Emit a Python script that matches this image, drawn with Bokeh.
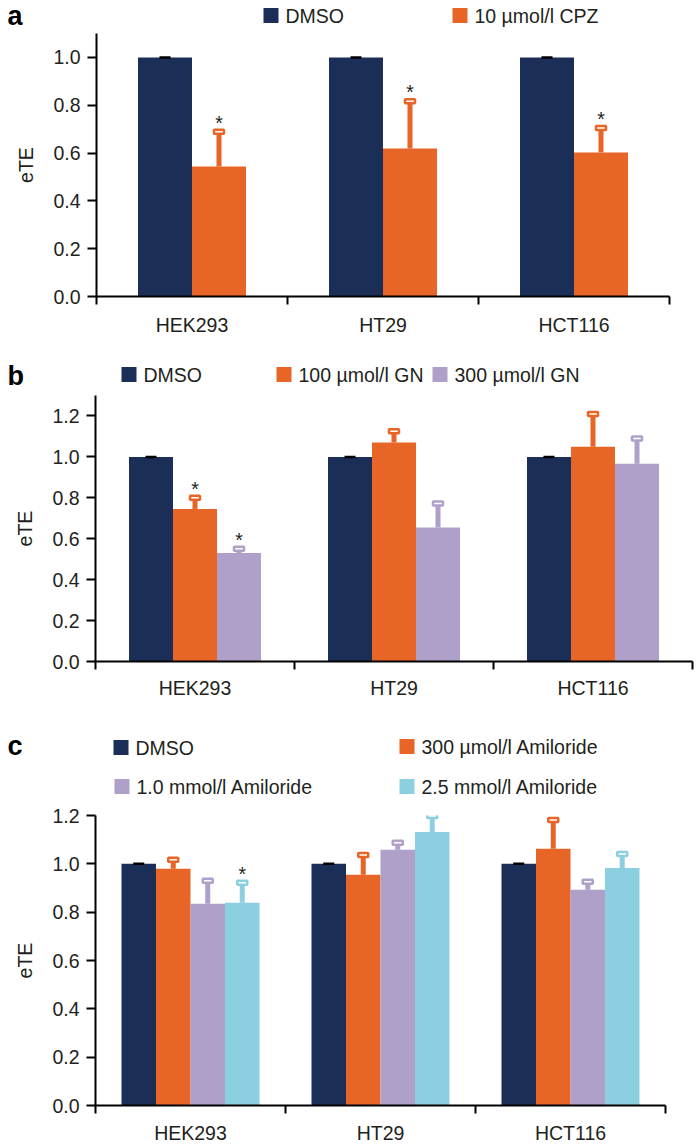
from bokeh.plotting import figure
from bokeh.models import Range1d, FixedTicker, PrintfTickFormatter
from bokeh.layouts import column
from bokeh.core.properties import value
from bokeh.embed import file_html
from bokeh.resources import INLINE

# ---------------- data ----------------
cells = ["HEK293", "HT29", "HCT116"]

# panel a
a_labels = ["DMSO", "10 \u00b5mol/l CPZ"]
a_dmso = [1.0, 1.0, 1.0]
a_dmso_sd = [0.0, 0.0, 0.0]
a_cpz = [0.544, 0.619, 0.602]
a_cpz_sd = [0.145, 0.198, 0.103]
a_cpz_sig = [True, True, True]
a_yticks = [0.0, 0.2, 0.4, 0.6, 0.8, 1.0]

# panel b
b_labels = ["DMSO", "100 \u00b5mol/l GN", "300 \u00b5mol/l GN"]
b_dmso = [1.0, 1.0, 1.0]
b_dmso_sd = [0.0, 0.0, 0.0]
b_gn100 = [0.745, 1.07, 1.05]
b_gn100_sd = [0.055, 0.055, 0.16]
b_gn100_sig = [True, False, False]
b_gn300 = [0.53, 0.655, 0.967]
b_gn300_sd = [0.021, 0.117, 0.123]
b_gn300_sig = [True, False, False]
b_yticks = [0.0, 0.2, 0.4, 0.6, 0.8, 1.0, 1.2]

# panel c
c_labels = ["DMSO", "300 \u00b5mol/l Amiloride", "1.0 mmol/l Amiloride", "2.5 mmol/l Amiloride"]
c_dmso = [1.0, 1.0, 1.0]
c_dmso_sd = [0.0, 0.0, 0.0]
c_a300 = [0.98, 0.955, 1.062]
c_a300_sd = [0.037, 0.082, 0.119]
c_a1 = [0.835, 1.058, 0.893]
c_a1_sd = [0.095, 0.029, 0.033]
c_a25 = [0.839, 1.132, 0.983]
c_a25_sd = [0.083, 0.066, 0.058]
c_a25_sig = [True, False, False]
c_yticks = [0.0, 0.2, 0.4, 0.6, 0.8, 1.0, 1.2]
no_sig = [False, False, False]

# ---------------- style ----------------
NAVY = "#1a2e57"
ORANGE = "#e76526"
PURPLE = "#afa0ca"
CYAN = "#8ccfe1"
TXT = "#231f20"
FONT = "Liberation Sans"
FS = "19.5px"
W = 700


def no_align(p):
    try:
        p.frame_align = False
    except Exception:
        pass


def make_plot(series, colors, ymax, yticks, bar_w, height, top, bottom,
              left, right, standoff):
    p = figure(width=W, height=height, x_range=Range1d(0, len(cells)),
               y_range=Range1d(0, ymax), output_backend="svg",
               toolbar_location=None, min_border_left=left,
               min_border_right=right, min_border_top=top,
               min_border_bottom=bottom)
    no_align(p)
    p.outline_line_color = None
    p.xgrid.grid_line_color = None
    p.ygrid.grid_line_color = None
    n = len(series)
    for j, (vals, sds, sig) in enumerate(series):
        col = colors[j]
        xs = [i + 0.5 + (j - (n - 1) / 2) * bar_w for i in range(len(cells))]
        tops = [v + s for v, s in zip(vals, sds)]
        p.vbar(x=xs, top=vals, width=bar_w, bottom=0, fill_color=col,
               line_color=None)
        if j == 0:
            p.rect(x=xs, y=tops, width=11, height=2.5, width_units="screen",
                   height_units="screen", fill_color="black", line_color=None)
        else:
            p.segment(x0=xs, y0=vals, x1=xs, y1=tops, line_color=col,
                      line_width=5)
            p.rect(x=xs, y=tops, width=10, height=4, width_units="screen",
                   height_units="screen", fill_color="white", line_color=col,
                   line_width=2.5)
        sx = [x for x, s in zip(xs, sig) if s]
        sy = [t for t, s in zip(tops, sig) if s]
        if sx:
            p.text(x=sx, y=sy, text=["*"] * len(sx), text_align="center",
                   text_baseline="alphabetic", y_offset=-9,
                   text_font=value(FONT), text_font_size=FS, text_color=TXT)

    ya = p.yaxis[0]
    ya.ticker = FixedTicker(ticks=yticks)
    ya.formatter = PrintfTickFormatter(format="%.1f")
    ya.major_tick_out = 9
    ya.major_tick_in = 0
    ya.major_tick_line_width = 2
    ya.axis_line_width = 2
    ya.major_label_standoff = 7
    ya.major_label_text_font = FONT
    ya.major_label_text_font_size = FS
    ya.major_label_text_color = TXT
    ya.axis_label = "eTE"
    ya.axis_label_text_font = FONT
    ya.axis_label_text_font_size = FS
    ya.axis_label_text_font_style = "normal"
    ya.axis_label_text_color = TXT
    ya.axis_label_standoff = 13

    xa = p.xaxis[0]
    centers = [i + 0.5 for i in range(len(cells))]
    xa.ticker = FixedTicker(ticks=centers,
                            minor_ticks=list(range(len(cells) + 1)))
    xa.major_label_overrides = {c: name for c, name in zip(centers, cells)}
    xa.major_tick_line_color = None
    xa.major_tick_out = 0
    xa.major_tick_in = 0
    xa.minor_tick_out = 8
    xa.minor_tick_in = 0
    xa.minor_tick_line_width = 2
    xa.minor_tick_line_color = "black"
    xa.axis_line_width = 2
    xa.major_label_standoff = standoff
    xa.major_label_text_font = FONT
    xa.major_label_text_font_size = FS
    xa.major_label_text_color = TXT
    return p


def make_legend(height, letter, letter_y, items):
    p = figure(width=W, height=height, x_range=Range1d(0, W),
               y_range=Range1d(height, 0), output_backend="svg",
               toolbar_location=None, x_axis_type=None, y_axis_type=None,
               min_border=0)
    no_align(p)
    p.outline_line_color = None
    p.xgrid.grid_line_color = None
    p.ygrid.grid_line_color = None
    p.text(x=[7], y=[letter_y], text=[letter], text_baseline="middle",
           text_font=value(FONT), text_font_size="27px",
           text_font_style="bold", text_color="black")
    xs = [it[0] + 7.5 for it in items]
    ys = [it[1] for it in items]
    p.rect(x=xs, y=ys, width=15, height=15, fill_color=[it[2] for it in items],
           line_color=None)
    p.text(x=[it[0] + 22 for it in items], y=ys, text=[it[3] for it in items],
           text_baseline="middle", text_font=value(FONT), text_font_size=FS,
           text_color=TXT)
    return p


leg_a = make_legend(31, "a", 15.5, [(263, 15, NAVY, a_labels[0]),
                                    (452, 15, ORANGE, a_labels[1])])
plot_a = make_plot([(a_dmso, a_dmso_sd, no_sig), (a_cpz, a_cpz_sd, a_cpz_sig)],
                   [NAVY, ORANGE], 1.1, a_yticks, 54 / 191,
                   319, 2, 54, 96, 31, 9)

leg_b = make_legend(43, "b", 25, [(121, 24, NAVY, b_labels[0]),
                                  (276, 24, ORANGE, b_labels[1]),
                                  (432, 24, PURPLE, b_labels[2])])
plot_b = make_plot([(b_dmso, b_dmso_sd, no_sig),
                    (b_gn100, b_gn100_sd, b_gn100_sig),
                    (b_gn300, b_gn300_sd, b_gn300_sig)],
                   [NAVY, ORANGE, PURPLE], 1.3, b_yticks, 44 / 199,
                   319, 2, 51, 95, 8, 7)

leg_c = make_legend(88, "c", 33, [(113, 35, NAVY, c_labels[0]),
                                  (399, 34, ORANGE, c_labels[1]),
                                  (114, 74, PURPLE, c_labels[2]),
                                  (399, 74, CYAN, c_labels[3])])
plot_c = make_plot([(c_dmso, c_dmso_sd, no_sig),
                    (c_a300, c_a300_sd, no_sig),
                    (c_a1, c_a1_sd, no_sig),
                    (c_a25, c_a25_sd, c_a25_sig)],
                   [NAVY, ORANGE, PURPLE, CYAN], 1.2, c_yticks, 34.5 / 190,
                   346, 15, 39, 95, 35, 8)

layout = column(leg_a, plot_a, leg_b, plot_b, leg_c, plot_c)
open("out.html", "w").write(file_html(layout, INLINE))
